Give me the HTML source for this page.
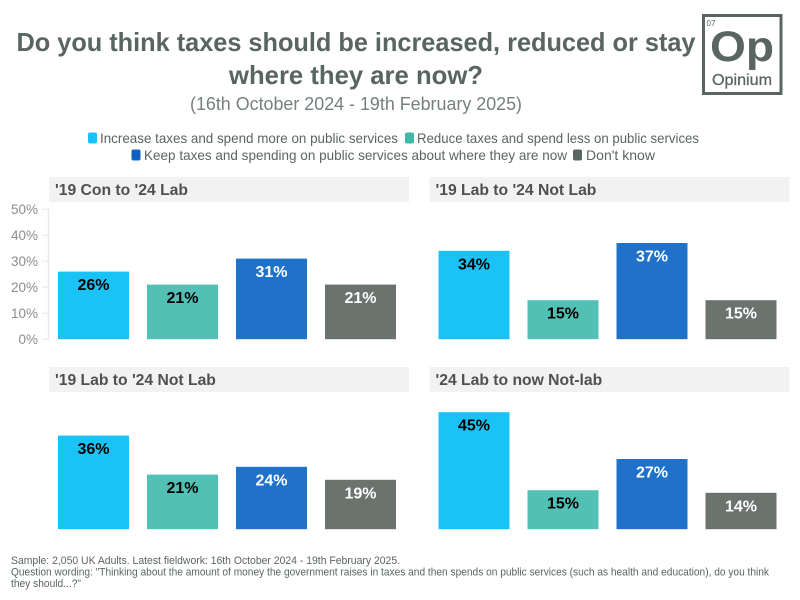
<!DOCTYPE html>
<html>
<head>
<meta charset="utf-8">
<style>
html,body{margin:0;padding:0;background:#fff;width:800px;height:600px;overflow:hidden}
svg{display:block;font-family:"Liberation Sans",sans-serif}
</style>
</head>
<body>
<svg id="chart" width="800" height="600" viewBox="0 0 800 600" xmlns="http://www.w3.org/2000/svg">
  <text x="356" y="51" text-anchor="middle" font-size="26" font-weight="bold" fill="#59655f" textLength="679" lengthAdjust="spacingAndGlyphs">Do you think taxes should be increased, reduced or stay</text>
  <text x="356" y="84" text-anchor="middle" font-size="26" font-weight="bold" fill="#59655f" textLength="254" lengthAdjust="spacingAndGlyphs">where they are now?</text>
  <text x="356" y="110" text-anchor="middle" font-size="18" fill="#77807c" textLength="332" lengthAdjust="spacingAndGlyphs">(16th October 2024 - 19th February 2025)</text>

  <g>
    <rect x="703.5" y="15.5" width="77.5" height="78" fill="#fff" stroke="#59655f" stroke-width="3"/>
    <text x="706.5" y="26" font-size="8" fill="#59655f">07</text>
    <text x="710" y="61" font-size="43" font-weight="bold" fill="#59655f" textLength="64" lengthAdjust="spacingAndGlyphs">Op</text>
    <text x="712" y="85" font-size="16" fill="#59655f" stroke="#59655f" stroke-width="0.3" textLength="60" lengthAdjust="spacingAndGlyphs">Opinium</text>
  </g>

  <g font-size="14" fill="#59655f">
    <g>
      <rect x="88" y="132.5" width="9" height="11" rx="2" fill="#19c3f7"/>
      <text x="100" y="143" textLength="298" lengthAdjust="spacingAndGlyphs">Increase taxes and spend more on public services</text>
    </g>
    <g>
      <rect x="405" y="132.5" width="9" height="11" rx="2" fill="#3fb8a9"/>
      <text x="417" y="143" textLength="282" lengthAdjust="spacingAndGlyphs">Reduce taxes and spend less on public services</text>
    </g>
    <g>
      <rect x="131.5" y="149.5" width="9" height="11" rx="2" fill="#0f62c4"/>
      <text x="144" y="160" textLength="423" lengthAdjust="spacingAndGlyphs">Keep taxes and spending on public services about where they are now</text>
    </g>
    <g>
      <rect x="573" y="149.5" width="9" height="11" rx="2" fill="#59655f"/>
      <text x="586" y="160" textLength="69" lengthAdjust="spacingAndGlyphs">Don't know</text>
    </g>
  </g>

  <g id="panels"></g>

  <g font-size="11" fill="#59655f">
    <text x="11" y="564" textLength="389" lengthAdjust="spacingAndGlyphs">Sample: 2,050 UK Adults. Latest fieldwork: 16th October 2024 - 19th February 2025.</text>
    <text x="11" y="575.5" textLength="758" lengthAdjust="spacingAndGlyphs">Question wording: "Thinking about the amount of money the government raises in taxes and then spends on public services (such as health and education), do you think</text>
    <text x="11" y="587" textLength="70" lengthAdjust="spacingAndGlyphs">they should...?"</text>
  </g>
</svg>
<script>
var panelTitles = ["'19 Con to '24 Lab", "'19 Lab to '24 Not Lab", "'19 Lab to '24 Not Lab", "'24 Lab to now Not-lab"];
var seriesIncrease = [26, 34, 36, 45];
var seriesReduce = [21, 15, 21, 15];
var seriesKeep = [31, 37, 24, 27];
var seriesDontKnow = [21, 15, 19, 14];
var yTicks = [0, 10, 20, 30, 40, 50];

var NS = 'http://www.w3.org/2000/svg';
var root = document.getElementById('panels');
var barColors = ['#19c3f7', '#52c0b5', '#1f71c9', '#6a736d'];
var labelColors = ['#000', '#000', '#fff', '#fff'];
var seriesKeys = ['increase', 'reduce', 'keep', 'dont-know'];
var allSeries = [seriesIncrease, seriesReduce, seriesKeep, seriesDontKnow];

function make(tag, attrs, parent) {
  var el = document.createElementNS(NS, tag);
  for (var k in attrs) { el.setAttribute(k, attrs[k]); }
  parent.appendChild(el);
  return el;
}
function panelLeft(p) { return p % 2 === 0 ? 49 : 429.5; }
function panelTop(p) { return p < 2 ? 177 : 367; }
function yScale(p, v) { return panelTop(p) + 162.2 - v * 2.6; }
function xScale(p, s) { return panelLeft(p) + 9 + s * 89; }

panelTitles.forEach(function (title, p) {
  var g = make('g', {}, root);
  
  

  var strip = make('rect', {x: panelLeft(p), y: panelTop(p), width: 360, height: 25, fill: '#f2f2f2'}, g);
  
  

  var head = make('text', {x: panelLeft(p) + 6, y: panelTop(p) + 18, 'font-size': 15.7, 'font-weight': 'bold', fill: '#505050'}, g);
  
  
  head.textContent = title;

  if (p === 0) {
    var axis = make('path', {
      d: 'M48.5 ' + yScale(p, 50) + 'V' + yScale(p, 0),
      fill: 'none', stroke: '#ebebeb', 'stroke-width': 1.5
    }, g);
    
    
    yTicks.forEach(function (t) {
      var tick = make('line', {x1: 42, x2: 49, y1: yScale(p, t), y2: yScale(p, t), stroke: '#ebebeb', 'stroke-width': 1.2}, g);
      
      
      var lab = make('text', {x: 38, y: yScale(p, t) + 5, 'text-anchor': 'end', 'font-size': 13.5, fill: '#8c8c8c'}, g);
      
      
      lab.textContent = t + '%';
    });
  }

  allSeries.forEach(function (vals, s) {
    var v = vals[p];
    var bar = make('rect', {
      x: xScale(p, s), y: yScale(p, v), width: 71,
      height: yScale(p, 0) - yScale(p, v), fill: barColors[s]
    }, g);
    
    
    var val = make('text', {
      x: xScale(p, s) + 35.5, y: yScale(p, v) + 18.5, 'text-anchor': 'middle',
      'font-size': 16, 'font-weight': 'bold', fill: labelColors[s]
    }, g);
    
    
    val.textContent = v + '%';
  });
});
</script>
</body>
</html>
